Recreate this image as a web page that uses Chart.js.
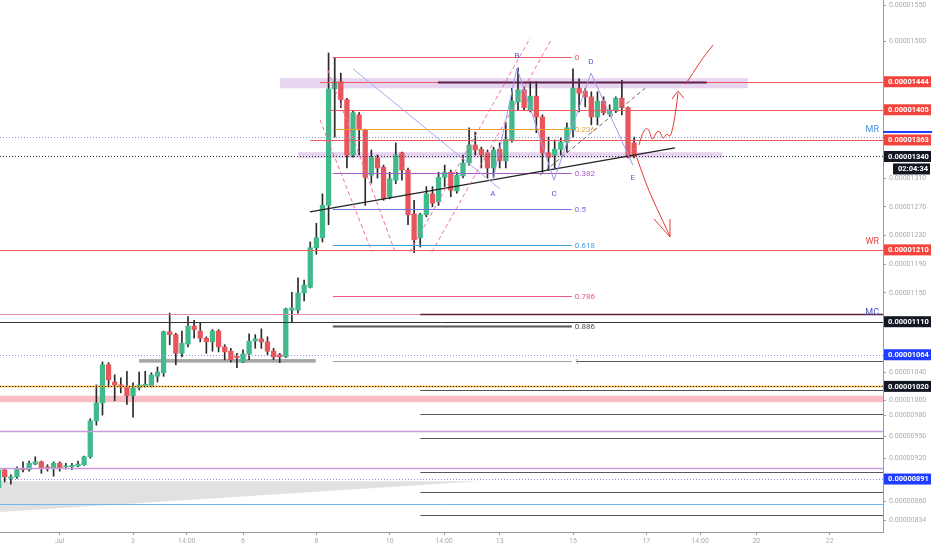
<!DOCTYPE html>
<html>
<head>
<meta charset="utf-8">
<script src="https://cdn.jsdelivr.net/npm/chart.js@4.4.1/dist/chart.umd.min.js"></script>
<style>
  html, body { margin: 0; padding: 0; background: #fff; }
  #wrap { width: 932px; height: 550px; position: relative; }
</style>
</head>
<body>
<div id="wrap"><canvas id="chart"></canvas></div>
<script>
// prices in units of 1e-8 (1444 -> 0.00001444), x = 4h candle index counted from Jul 1 00:00
const firstCandle = -10;
const opens = [879,904,892,894,906,904,912,915,908,906,
  913,908,908,909,911,922,972,997,1050,1026,1022,1019,1007,1018,1021,1021,1034,1039,
  1096,1092,1066,1079,1104,1097,1087,1082,1097,1075,1069,1062,1054,1065,1083,1086,1082,1069,1064,
  1061,1126,1126,1150,1158,1213,1227,1272,1434,1444,1419,1342,1398,1377,1314,1338,1325,1284,1307,
  1345,1321,1260,1227,1259,1288,1277,1311,1318,1292,1313,1331,1356,1350,1345,1324,1350,1334,1363,
  1416,1433,1405,1424,1395,1345,1342,1350,1360,1377,1435,1431,1423,1395,1417,1399,1405,1421,1408,1359];
const highs = [906,906,897,908,915,916,922,916,911,915,
  915,913,913,916,923,975,1022,1054,1053,1036,1032,1041,1025,1040,1041,1039,1047,1097,
  1122,1094,1097,1117,1112,1108,1089,1099,1099,1078,1073,1066,1071,1093,1092,1100,1089,1073,1066,
  1129,1151,1171,1168,1221,1247,1288,1484,1477,1456,1421,1403,1401,1378,1349,1342,1328,1318,1359,
  1346,1324,1279,1261,1298,1298,1318,1328,1321,1318,1342,1380,1374,1353,1349,1353,1359,1387,1435,
  1463,1437,1444,1444,1398,1367,1363,1366,1387,1462,1448,1435,1430,1430,1423,1412,1423,1446,1409,1367];
const lows = [876,887,884,892,901,902,911,899,902,895,
  902,905,904,908,910,920,966,980,1019,1000,1011,995,977,1015,1019,1019,1026,1034,
  1078,1050,1061,1075,1087,1082,1066,1069,1068,1057,1054,1046,1053,1057,1073,1073,1064,1057,1053,
  1060,1110,1122,1139,1157,1204,1221,1245,1367,1408,1324,1339,1342,1272,1303,1310,1279,1281,1302,
  1307,1245,1206,1214,1256,1270,1272,1298,1284,1289,1310,1328,1342,1324,1310,1311,1324,1324,1360,
  1405,1405,1402,1373,1318,1321,1324,1342,1346,1367,1402,1409,1384,1384,1398,1396,1401,1398,1338,1338];
const closes = [904,894,894,905,904,913,915,906,906,913,
  906,909,910,912,922,972,997,1050,1029,1022,1019,1007,1018,1022,1023,1036,1040,1096,
  1092,1066,1080,1104,1099,1087,1082,1097,1075,1068,1057,1060,1065,1083,1086,1082,1069,1061,1061,
  1128,1129,1150,1161,1213,1227,1272,1434,1444,1419,1342,1401,1377,1311,1339,1324,1282,1309,1342,
  1321,1259,1224,1259,1288,1275,1311,1318,1293,1314,1331,1356,1349,1342,1324,1349,1334,1364,1417,
  1433,1408,1424,1395,1345,1339,1350,1360,1380,1435,1428,1423,1395,1417,1401,1405,1421,1408,1339,1340];

// axes
const xLeft = -9.77, xRight = 134.73;
const priceMin = 817.3, priceMax = 1557.8;
const yTickValues = [1550,1500,1310,1270,1230,1190,1150,1040,1000,980,950,920,860,834];
const timeTickPos = [0,12,20.8,30,42,54,62.9,72,84,96,104.8,114,126];
const timeTickLabels = ['Jul','3','14:00','6','8','10','14:00','13','15','17','14:00','20','22'];

// horizontal levels: [price, fromIdx, toIdx, colour, width, dash]
const levels = [
  [1444, 42.6, null, '#f05a5a', 1, []],
  [1444, 61.9, 105.9, '#5c2048', 2, []],
  [1405, 44.2, null, '#f05a5a', 1, []],
  [1367, null, null, '#9090e6', 1, [1,2]],
  [1363, 41.0, null, '#f05a5a', 1, []],
  [1340, null, null, '#333333', 1, [1,2]],
  [1210, null, null, '#f05a5a', 1, []],
  [1121, null, 59.0, '#e58aa6', 1, []],
  [1121, 59.0, null, '#5c1f3c', 1.5, []],
  [1110, null, null, '#333333', 1, []],
  [1064, null, null, '#9090e6', 1, [1,2]],
  [1055, 84.5, null, '#555555', 1, []],
  [1020, null, null, '#f5a623', 1.5, []],
  [1020, null, null, '#222222', 1, [1,2]],
  [1015, 59.0, null, '#555555', 1, []],
  [982, 59.0, null, '#555555', 1, []],
  [958, null, null, '#c99ade', 1.5, []],
  [948, 59.0, null, '#555555', 1, []],
  [906, null, null, '#c99ade', 1.5, []],
  [901, 59.0, null, '#555555', 1, []],
  [891, null, null, '#9090e6', 1, [1,2]],
  [873, 59.0, null, '#555555', 1, []],
  [856, null, null, '#74b6ea', 1, []],
  [841, 59.0, null, '#555555', 1, []]
];
// shaded zones: [priceTop, priceBottom, fromIdx, toIdx, colour]
const zones = [
  [1449, 1435, 36.05, 112.6, 'rgba(205,170,225,0.5)'],
  [1346, 1338, 39.0, 108.5, 'rgba(205,170,225,0.5)'],
  [1058, 1053, 13.0, 41.9, 'rgba(150,150,150,0.85)'],
  [1007, 998, null, null, 'rgba(247,160,170,0.7)']
];
const wedge = [[-9.77, 888], [68.8, 888], [-9.77, 845]];

// fibonacci retracement
const fibHigh = 1478.5, fibLow = 1055.4, fibFrom = 44.7, fibTo = 83.8, fibLabelAt = 84.3;
const fibRatios = [0, 0.236, 0.382, 0.5, 0.618, 0.786, 0.886, 1];
const fibColors = ['#e5576e','#f0a030','#a85cc8','#7070e0','#3fa0e0','#e8578a','#555555','#a0a0a0'];

// straight drawings: [idx1, price1, idx2, price2, colour, width, dash]
const segments = [
  [45.0, 1477, 45.0, 1367, '#333333', 1, []],
  [40.96, 1263, 100.69, 1352, '#222222', 1.2, []],
  [78.6, 1314, 95.8, 1435, '#666666', 1, [4,3]],
  [48.0, 1462, 72.0, 1295, '#a8a8ec', 1, []],
  [43.9, 1460, 54.9, 1207, '#f0709a', 1, [4,3]],
  [42.6, 1391, 51.1, 1207, '#f0709a', 1, [4,3]],
  [57.3, 1207, 77.0, 1505, '#f0709a', 1, [4,3]],
  [60.9, 1207, 80.6, 1505, '#f0709a', 1, [4,3]]
];
// ABCDE pattern
const patIdx = [70.9, 74.83, 80.89, 86.94, 93.8];
const patPrice = [1307, 1463, 1307, 1456, 1328];
const patNames = ['A','B','C','D','E'];
const patLabelPrice = [1288, 1480, 1288, 1472, 1310];

// hand-drawn red arrows: [idx, price] points
const upPath = [[94.79,1356],[95.45,1377],[96.43,1380],[96.92,1360],[97.58,1374],[98.23,1376],
  [98.72,1363],[99.38,1373],[99.87,1366],[100.36,1380],[100.85,1405],[101.18,1428]];
const upHead = [[100.2,1420],[101.18,1431],[102.16,1421]];
const upLine = [[102.49,1441],[104.78,1472],[106.9,1495]];
const downPath = [[94.47,1338],[95.78,1305],[97.58,1270],[99.87,1229]];
const downHead = [[97.25,1253],[99.87,1228],[99.87,1253]];

// right side level names
const tags = [['MR', 1377, '#4a90e2'], ['WR', 1221, '#e0474c'], ['MC', 1123, '#4655c8']];
// price-scale markers: [price, background, text colour]
const axisTags = [
  [1444, '#f2443c', '#fff'], [1405, '#f2443c', '#fff'], [1363, '#f2443c', '#fff'],
  [1340, '#131722', '#fff'], [1210, '#f2443c', '#fff'], [1110, '#131722', '#fff'],
  [1064, '#1f3dff', '#fff'], [1020, '#131722', '#fff'], [891, '#1f3dff', '#fff']
];
const mrMarker = 1374;
const timerText = '02:04:34';

const UP = '#40b98b', DOWN = '#e8555b', WICK = '#2a2a2a';

const idx = opens.map((_, i) => firstCandle + i);
const bodyData = idx.map((k, i) => ({ x: k, y: [opens[i], closes[i]] }));
const wickData = idx.map((k, i) => ({ x: k, y: [lows[i], highs[i]] }));
const bodyColors = opens.map((o, i) => closes[i] >= o ? UP : DOWN);
const fmt = v => (v / 1e8).toFixed(8);

const drawings = {
  id: 'drawings',
  beforeDatasetsDraw(chart) {
    const { ctx, chartArea: a, scales: { x, y } } = chart;
    ctx.save();
    ctx.beginPath(); ctx.rect(a.left, a.top, a.width, a.height); ctx.clip();
    zones.forEach(z => {
      const x1 = z[2] == null ? a.left : x.getPixelForValue(z[2]);
      const x2 = z[3] == null ? a.right : x.getPixelForValue(z[3]);
      const y1 = y.getPixelForValue(z[0]), y2 = y.getPixelForValue(z[1]);
      ctx.fillStyle = z[4];
      ctx.fillRect(x1, y1, x2 - x1, y2 - y1);
    });
    ctx.fillStyle = 'rgba(205,205,205,0.6)';
    ctx.beginPath();
    wedge.forEach((p, i) => {
      const px = x.getPixelForValue(p[0]), py = y.getPixelForValue(p[1]);
      if (i) ctx.lineTo(px, py); else ctx.moveTo(px, py);
    });
    ctx.closePath(); ctx.fill();
    ctx.restore();
  },
  afterDatasetsDraw(chart) {
    const { ctx, chartArea: a, scales: { x, y } } = chart;
    const P = p => [x.getPixelForValue(p[0]), y.getPixelForValue(p[1])];
    ctx.save();
    ctx.beginPath(); ctx.rect(a.left, a.top, a.width, a.height); ctx.clip();

    levels.forEach(l => {
      const yy = Math.round(y.getPixelForValue(l[0])) + 0.5;
      ctx.strokeStyle = l[3]; ctx.lineWidth = l[4]; ctx.setLineDash(l[5]);
      ctx.beginPath();
      ctx.moveTo(l[1] == null ? a.left : x.getPixelForValue(l[1]), yy);
      ctx.lineTo(l[2] == null ? a.right : x.getPixelForValue(l[2]), yy);
      ctx.stroke();
    });
    ctx.setLineDash([]);

    // fib levels
    ctx.font = '8px Roboto'; ctx.textBaseline = 'middle'; ctx.textAlign = 'left';
    fibRatios.forEach((r, i) => {
      const price = fibHigh - r * (fibHigh - fibLow);
      const yy = Math.round(y.getPixelForValue(price)) + 0.5;
      ctx.strokeStyle = fibColors[i]; ctx.lineWidth = r === 0.886 ? 2 : 1;
      ctx.beginPath();
      ctx.moveTo(x.getPixelForValue(fibFrom), yy);
      ctx.lineTo(x.getPixelForValue(fibTo), yy);
      ctx.stroke();
      ctx.fillStyle = fibColors[i];
      ctx.fillText(String(r), x.getPixelForValue(fibLabelAt), yy);
    });

    segments.forEach(s => {
      const p1 = P([s[0], s[1]]), p2 = P([s[2], s[3]]);
      ctx.strokeStyle = s[4]; ctx.lineWidth = s[5]; ctx.setLineDash(s[6]);
      ctx.beginPath(); ctx.moveTo(p1[0], p1[1]); ctx.lineTo(p2[0], p2[1]); ctx.stroke();
    });
    ctx.setLineDash([]);

    // ABCDE
    ctx.strokeStyle = '#9a9af0'; ctx.lineWidth = 1;
    ctx.beginPath();
    patIdx.forEach((k, i) => {
      const p = P([k, patPrice[i]]);
      if (i) ctx.lineTo(p[0], p[1]); else ctx.moveTo(p[0], p[1]);
    });
    ctx.stroke();
    ctx.fillStyle = '#5555d8'; ctx.textAlign = 'center'; ctx.font = '8px Roboto';
    patIdx.forEach((k, i) => {
      const p = P([k, patLabelPrice[i]]);
      ctx.fillText(patNames[i], p[0], p[1]);
    });

    // red arrows
    const smooth = pts => {
      const q = pts.map(P);
      ctx.beginPath(); ctx.moveTo(q[0][0], q[0][1]);
      for (let i = 1; i < q.length - 1; i++) {
        ctx.quadraticCurveTo(q[i][0], q[i][1], (q[i][0] + q[i + 1][0]) / 2, (q[i][1] + q[i + 1][1]) / 2);
      }
      ctx.lineTo(q[q.length - 1][0], q[q.length - 1][1]);
      ctx.stroke();
    };
    const poly = pts => {
      const q = pts.map(P);
      ctx.beginPath(); ctx.moveTo(q[0][0], q[0][1]);
      q.slice(1).forEach(p => ctx.lineTo(p[0], p[1]));
      ctx.stroke();
    };
    ctx.strokeStyle = '#e53935'; ctx.lineWidth = 1;
    smooth(upPath); poly(upHead); smooth(upLine);
    smooth(downPath); poly(downHead);

    // level names
    ctx.font = '9px Roboto'; ctx.textAlign = 'right';
    tags.forEach(t => {
      ctx.fillStyle = t[2];
      ctx.fillText(t[0], a.right - 4, y.getPixelForValue(t[1]));
    });
    ctx.restore();
  },
  afterDraw(chart) {
    const { ctx, chartArea: a, scales: { y }, width } = chart;
    ctx.save();
    const x0 = a.right + 1, w = width - x0 - 1;
    ctx.strokeStyle = '#1f3dff'; ctx.lineWidth = 2;
    const ym = y.getPixelForValue(mrMarker);
    ctx.beginPath(); ctx.moveTo(a.right, ym); ctx.lineTo(width, ym); ctx.stroke();
    ctx.font = 'bold 7.5px Roboto'; ctx.textBaseline = 'middle'; ctx.textAlign = 'left';
    axisTags.forEach(t => {
      const yy = y.getPixelForValue(t[0]);
      ctx.fillStyle = t[1];
      ctx.fillRect(x0, yy - 5.5, w, 11);
      ctx.fillStyle = t[2];
      ctx.fillText(fmt(t[0]), x0 + 4, yy + 0.5);
      if (t[0] === closes[closes.length - 1]) {
        ctx.fillStyle = t[1];
        ctx.fillRect(x0 + 9, yy + 7, w - 10, 11);
        ctx.fillStyle = t[2]; ctx.textAlign = 'right';
        ctx.fillText(timerText, width - 4, yy + 13);
        ctx.textAlign = 'left';
      }
    });
    ctx.restore();
  }
};

new Chart(document.getElementById('chart'), {
  type: 'bar',
  data: {
    datasets: [
      { data: bodyData, backgroundColor: bodyColors, barThickness: 4.6, minBarLength: 1, grouped: false, order: 0 },
      { data: wickData, backgroundColor: WICK, barThickness: 1, grouped: false, order: 1 }
    ]
  },
  options: {
    responsive: true,
    maintainAspectRatio: false,
    animation: false,
    events: [],
    layout: { padding: 0 },
    plugins: { legend: { display: false }, tooltip: { enabled: false } },
    scales: {
      x: {
        type: 'linear', min: xLeft, max: xRight, offset: false,
        afterBuildTicks: s => { s.ticks = timeTickPos.map(v => ({ value: v })); },
        afterFit: s => { s.height = 18; s.paddingLeft = 0; s.paddingRight = 0; },
        ticks: { autoSkip: false, maxRotation: 0, callback: (v, i) => timeTickLabels[i],
                 font: { size: 7, family: 'Roboto' }, color: '#a9acb4', padding: 2 },
        grid: { drawOnChartArea: false, offset: false, tickLength: 3, color: '#a0a0a0' },
        border: { color: '#9a9a9a' }
      },
      y: {
        type: 'linear', position: 'right', min: priceMin, max: priceMax,
        afterBuildTicks: s => { s.ticks = yTickValues.map(v => ({ value: v })); },
        afterFit: s => { s.width = 49; s.paddingTop = 0; s.paddingBottom = 0; },
        ticks: { autoSkip: false, callback: v => fmt(v), font: { size: 7, family: 'Roboto' }, color: '#a9acb4', padding: 3 },
        grid: { drawOnChartArea: false, tickLength: 3, color: '#a0a0a0' },
        border: { color: '#9a9a9a' }
      }
    }
  },
  plugins: [drawings]
});
</script>
</body>
</html>
